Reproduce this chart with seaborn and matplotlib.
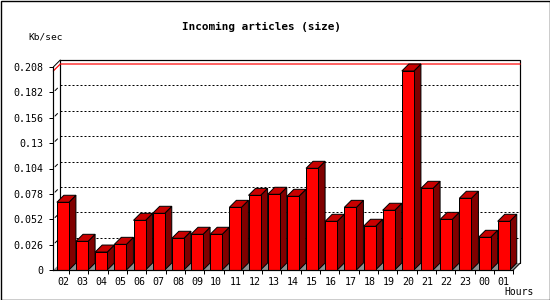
import numpy as np
import pandas as pd
import matplotlib
matplotlib.use("Agg")
import matplotlib.pyplot as plt
from matplotlib.patches import Polygon, Rectangle
import seaborn as sns

hours = ["02", "03", "04", "05", "06", "07", "08", "09", "10", "11", "12", "13",
         "14", "15", "16", "17", "18", "19", "20", "21", "22", "23", "00", "01"]
kb_sec = [0.0694, 0.0294, 0.0184, 0.0263, 0.0509, 0.0581, 0.0325, 0.0366,
          0.0366, 0.0642, 0.0765, 0.0776, 0.0755, 0.1042, 0.0499, 0.0642,
          0.0448, 0.0612, 0.2039, 0.0837, 0.0519, 0.0735, 0.0335, 0.0499]
ytick_vals = [0, 0.026, 0.052, 0.078, 0.104, 0.13, 0.156, 0.182, 0.208]
ytick_labels = ["0", "0.026", "0.052", "0.078", "0.104", "0.13", "0.156", "0.182", "0.208"]
title = "Incoming articles (size)"
ylabel = "Kb/sec"
xlabel = "Hours"

sns.set_theme(style="white")
plt.rcParams["font.family"] = ["DejaVu Sans Mono", "DejaVu Sans"]

W, H = 550, 300
fig = plt.figure(figsize=(5.5, 3.0), dpi=100)
fig.patch.set_facecolor("white")

x0_px, x1_px = 53.3, 513.3
yb_px, yt_px = 270.0, 67.0
ax = fig.add_axes([x0_px / W, (H - yb_px) / H, (x1_px - x0_px) / W, (yb_px - yt_px) / H])
ax.set_facecolor("none")

n = len(hours)
YMAX = ytick_vals[-1]
ax.set_xlim(-0.5, n - 0.5)
ax.set_ylim(0, YMAX)

depth_px = 7.0
DX = depth_px * n / (x1_px - x0_px)
DY = depth_px * YMAX / (yb_px - yt_px)

df = pd.DataFrame({"hour": hours, "val": kb_sec})
LW = 0.72
sns.barplot(data=df, x="hour", y="val", order=hours, color="#ff0000",
            saturation=1, width=0.63, edgecolor="black", linewidth=LW,
            ax=ax, zorder=5)
ax.set_xlim(-0.5, n - 0.5)
ax.set_ylim(0, YMAX)

# floor
floor = Polygon([(-0.5, 0), (n - 0.5, 0), (n - 0.5 + DX, DY), (-0.5 + DX, DY)],
                closed=True, facecolor="#909090", edgecolor="none", zorder=1,
                clip_on=False)
ax.add_patch(floor)

# back wall gridlines (dotted)
for v in ytick_vals[1:-1]:
    ax.plot([-0.5 + DX, n - 0.5 + DX], [v + DY, v + DY], color="black",
            lw=LW, linestyle=(0, (2, 2)), zorder=2, clip_on=False)

# back frame
bx0, bx1 = -0.5 + DX, n - 0.5 + DX
ax.plot([bx0, bx0, bx1, bx1], [DY, YMAX + DY, YMAX + DY, DY], color="black",
        lw=LW * 1.2, zorder=2, clip_on=False, solid_joinstyle="miter")
ax.plot([n - 0.5, bx1], [0, DY], color="black", lw=LW, zorder=2, clip_on=False)
ax.plot([-0.5, bx0], [YMAX, YMAX + DY], color="black", lw=LW, zorder=2, clip_on=False)

# max line (red)
vmax = max(kb_sec)
ax.plot([-0.5, bx0, bx1], [vmax, vmax + DY, vmax + DY], color="#ff0000",
        lw=LW * 1.2, zorder=3, clip_on=False)

# small diagonal tick connectors
for v in ytick_vals[1:-1]:
    ax.plot([-0.5 + 0.25 * DX, -0.5 + 0.6 * DX], [v + 0.25 * DY, v + 0.6 * DY],
            color="black", lw=LW, zorder=2, clip_on=False)

# 3D faces for bars
for p in list(ax.patches):
    if not isinstance(p, Rectangle):
        continue
    x, w, h = p.get_x(), p.get_width(), p.get_height()
    if w <= 0 or w > 1:
        continue
    side = Polygon([(x + w, 0), (x + w + DX, DY), (x + w + DX, h + DY), (x + w, h)],
                   closed=True, facecolor="#800000", edgecolor="black",
                   linewidth=LW, zorder=4, clip_on=False)
    top = Polygon([(x, h), (x + w, h), (x + w + DX, h + DY), (x + DX, h + DY)],
                  closed=True, facecolor="#c80000", edgecolor="black",
                  linewidth=LW, zorder=4, clip_on=False)
    ax.add_patch(side)
    ax.add_patch(top)
    p.set_clip_on(False)

# spines and ticks
for s in ["top", "right"]:
    ax.spines[s].set_visible(False)
for s in ["left", "bottom"]:
    ax.spines[s].set_visible(True)
    ax.spines[s].set_color("black")
    ax.spines[s].set_linewidth(LW * 1.2)
    ax.spines[s].set_zorder(6)

ax.set_yticks(ytick_vals)
ax.set_yticklabels(ytick_labels)
ax.set_xticks(range(n))
ax.set_xticklabels(hours)
ax.set_xticks(np.linspace(0.32, n - 0.5, n), minor=True)
ax.tick_params(axis="y", which="major", left=True, length=3, width=LW,
               color="black", pad=4, labelsize=7.2, labelcolor="black")
ax.tick_params(axis="x", which="major", bottom=False, length=0, pad=5,
               labelsize=7.2, labelcolor="black")
ax.tick_params(axis="x", which="minor", bottom=True, length=3, width=LW,
               color="black", direction="out")
ax.set_xlabel("")
ax.set_ylabel("")
ax.grid(False)

fig.text(261 / W, 1 - 27 / H, title, ha="center", va="center",
         fontsize=7.9, fontweight="bold", color="black")
fig.text(28 / W, 1 - 37 / H, ylabel, ha="left", va="center", fontsize=6.8,
         color="black")
fig.text(534 / W, 1 - 292 / H, xlabel, ha="right", va="center", fontsize=7.0,
         color="black")

# image border
fig.patches.append(Rectangle((0.5 / W, 0.5 / H), 1 - 1.0 / W, 1 - 1.0 / H,
                             transform=fig.transFigure, fill=False,
                             edgecolor="black", linewidth=1.0, zorder=10))

fig.savefig("out.png", dpi=100, facecolor="white")
